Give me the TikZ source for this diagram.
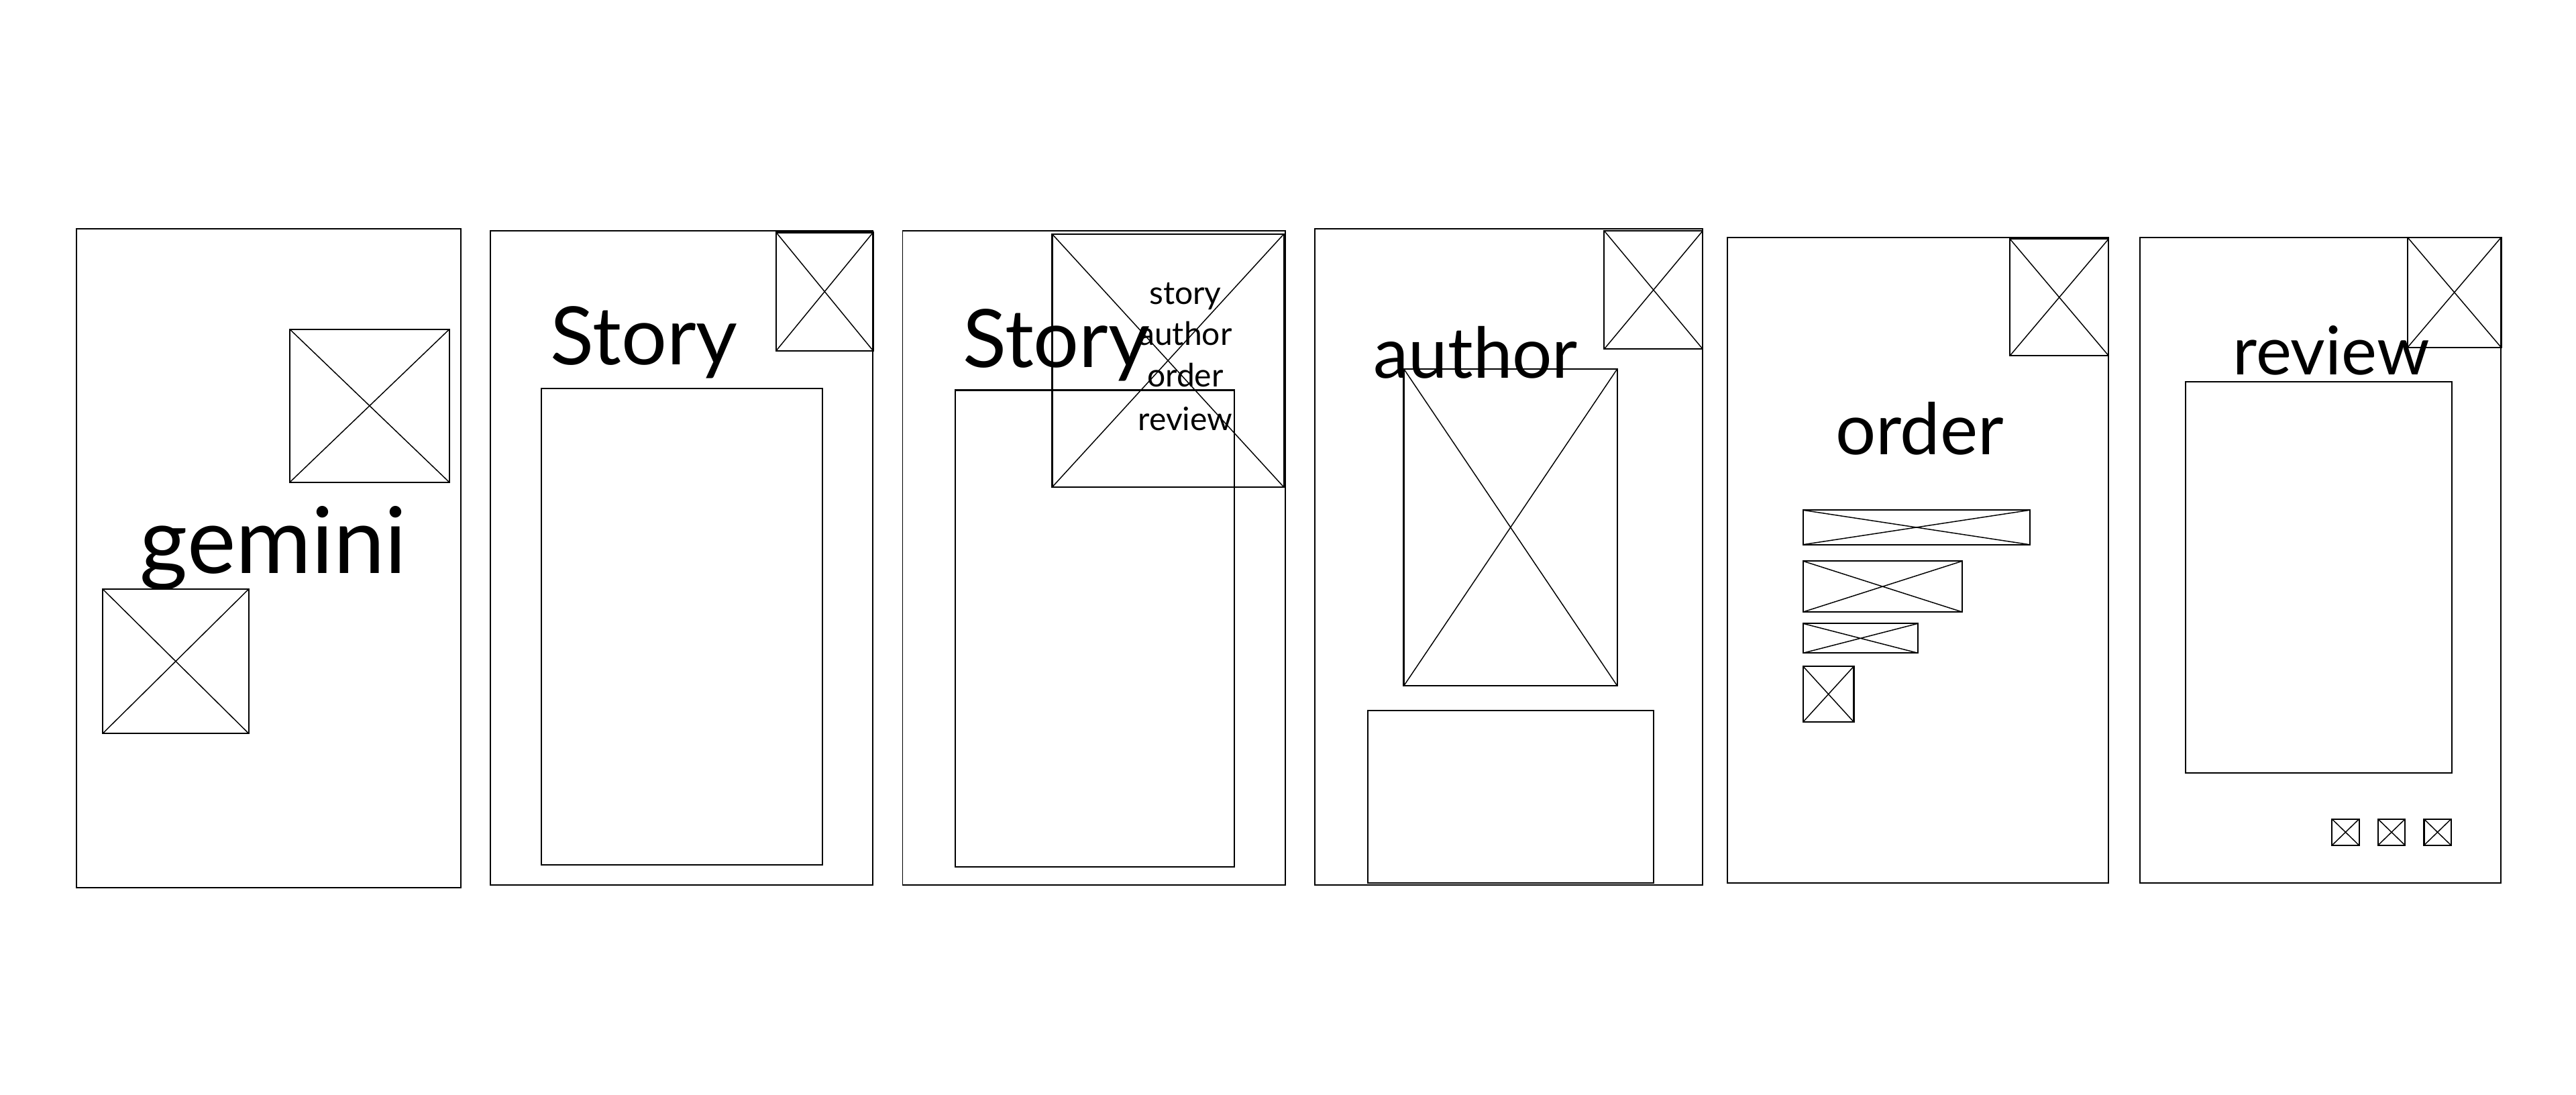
\documentclass[tikz,border=0pt]{standalone}
\usepackage{fontspec}
\setmainfont{Lato}
\usetikzlibrary{positioning}
\tikzset{
  % Phone screen outline.
  wf/screen/.style={draw=black, line width=0.8pt, inner sep=0pt, anchor=north west},
  % Plain content block.
  wf/block/.style={wf/screen, line width=0.9pt},
  % Image placeholder: box with a cross.
  wf/img/.style={wf/block,
    path picture={\draw[line width=0.6pt]
      (path picture bounding box.north west) -- (path picture bounding box.south east)
      (path picture bounding box.south west) -- (path picture bounding box.north east);}
  },
  % Screen headings.
  wf/head/.style={anchor=base west, inner sep=0pt, font=\fontsize{#1}{#1}\selectfont},
  wf/head/.default=50,
  % Menu entries.
  wf/item/.style={anchor=base, inner sep=0pt, font=\fontsize{19.6}{19.6}\selectfont},
}
\begin{document}
\begin{tikzpicture}[x=1pt,y=-1pt]
  \useasboundingbox (0,0) rectangle (1568,666);
  % gemini
  \node[wf/screen, minimum width=234pt, minimum height=401pt] (p1) at (46,139) {};
  \node[wf/img, minimum width=97pt, minimum height=93pt] (p1img) at (176,200) {};
  \node[wf/img, minimum width=89pt, minimum height=88pt] (p1logo) at (62,358) {};
  \node[wf/head=56] (p1t) at (85,349) {gemini};
  % story
  \node[wf/screen, minimum width=233pt, minimum height=398pt] (p2) at (298,140) {};
  \node[wf/img, minimum width=59pt, minimum height=72pt] (p2menu) at (472,141) {};
  \node[wf/head=49] (p2t) at (335,222) {Story};
  \node[wf/block, minimum width=171pt, minimum height=290pt] (p2body) at (329,236) {};
  % story with menu open
  \node[wf/screen, minimum width=233pt, minimum height=398pt] (p3) at (549,140) {};
  \node[wf/head=49] (p3t) at (586,223.5) {Story};
  \node[wf/block, minimum width=170pt, minimum height=290pt] (p3body) at (581,237) {};
  \node[wf/img, minimum width=141pt, minimum height=154pt] (p3menu) at (640,142) {};
  \foreach \n/\t/\y in {a/story/185,b/author/210,c/order/235.4,d/review/261.9}
    \node[wf/item] (p3\n) at (721.5,\y) {\t};
  % author
  \node[wf/screen, minimum width=236pt, minimum height=399pt] (p4) at (800,139) {};
  \node[wf/img, minimum width=60pt, minimum height=72pt] (p4menu) at (976,140) {};
  \node[wf/head=42.8] (p4t) at (836,230) {author};
  \node[wf/img, minimum width=130pt, minimum height=193pt] (p4photo) at (854,224) {};
  \node[wf/block, minimum width=174pt, minimum height=105pt] (p4bio) at (832,432) {};
  % order
  \node[wf/screen, minimum width=232pt, minimum height=393pt] (p5) at (1051,144) {};
  \node[wf/img, minimum width=60pt, minimum height=71pt] (p5menu) at (1223,145) {};
  \node[wf/head=43.4] (p5t) at (1117,276.5) {order};
  \node[wf/img, minimum width=138pt, minimum height=21pt] (p5a) at (1097,310) {};
  \node[wf/img, minimum width=97pt, minimum height=31pt] (p5b) at (1097,341) {};
  \node[wf/img, minimum width=70pt, minimum height=18pt] (p5c) at (1097,379) {};
  \node[wf/img, minimum width=31pt, minimum height=34pt] (p5d) at (1097,405) {};
  % review
  \node[wf/screen, minimum width=220pt, minimum height=393pt] (p6) at (1302,144) {};
  \node[wf/img, minimum width=57pt, minimum height=67pt] (p6menu) at (1465,144) {};
  \node[wf/head=40.9] (p6t) at (1359,228) {review};
  \node[wf/block, minimum width=162pt, minimum height=238pt] (p6body) at (1330,232) {};
  \foreach \i/\x in {1/1419,2/1447,3/1475}
    \node[wf/img, minimum width=16.5pt, minimum height=16pt] (p6s\i) at (\x,498) {};
\end{tikzpicture}
\end{document}
